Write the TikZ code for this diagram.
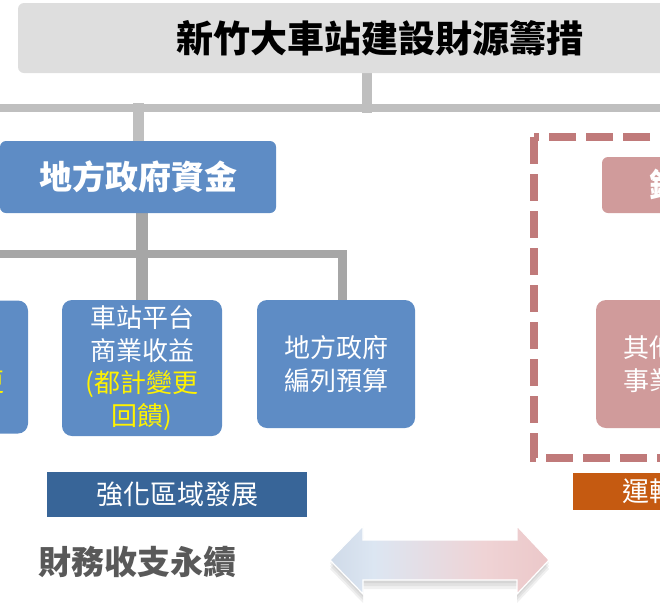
\documentclass[tikz,border=0pt]{standalone}
\usepackage{fontspec}
\setmainfont{Noto Sans CJK TC}
\usepackage{xcolor}
\usepackage{tikz}
\usetikzlibrary{
	positioning,						% Relative positioning
	calc								% Calculate point coordinates
}
\pgfdeclarelayer{background}
\pgfsetlayers{background,main}
\definecolor{title-gray}{HTML}{DEDEDE}
\definecolor{bus-gray}{HTML}{BFBFBF}
\definecolor{sub-gray}{HTML}{A6A6A6}
\definecolor{fund-blue}{HTML}{5E8CC5}
\definecolor{goal-blue}{HTML}{386598}
\definecolor{rail-pink}{HTML}{D09B9B}
\definecolor{dash-red}{HTML}{C07A7A}
\definecolor{run-orange}{HTML}{C55A11}
\definecolor{label-gray}{HTML}{595959}
\definecolor{arrow-a}{HTML}{AFBCCF}
\definecolor{arrow-b}{HTML}{DCE6F2}
\definecolor{arrow-c}{HTML}{EFD3D5}
\definecolor{arrow-d}{HTML}{E6B5B5}
\pgfdeclarehorizontalshading{balanceshade}{100bp}{color(0bp)=(arrow-a); color(35bp)=(arrow-b); color(60bp)=(arrow-c); color(100bp)=(arrow-d)}

\begin{document}
\begin{tikzpicture}[x=1pt, y=-1pt]
		\tikzstyle{headbox} = [rectangle, rounded corners=6pt, fill=title-gray, inner sep=0pt, font=\bfseries\fontsize{37}{40}\selectfont]
		\tikzstyle{fundbox} = [rectangle, rounded corners=6pt, text=white, inner sep=0pt, font=\bfseries\fontsize{33}{36}\selectfont]
		\tikzstyle{incomebox} = [rectangle, rounded corners=10pt, fill=fund-blue, text=white, inner sep=0pt, align=center, minimum width=160pt, font=\fontsize{26}{32.5}\selectfont]
		\tikzstyle{goalbox} = [rectangle, text=white, inner sep=0pt, minimum width=260pt, font=\fontsize{27}{30}\selectfont]
		\tikzstyle{busline} = [draw=bus-gray, line width=8pt, line cap=rect]
		\tikzstyle{subline} = [draw=sub-gray, line width=8pt, line cap=rect]
		
		\useasboundingbox (0,0) rectangle (660,611);
		\clip (0,0) rectangle (660,611);
		
		% Title
		\node[headbox, minimum width=724pt, minimum height=70pt] at (380,38) (title) {新竹大車站建設財源籌措};
		
		% Funding sources
		\node[fundbox, fill=fund-blue, minimum width=276pt, minimum height=72pt] at (138,177) (localFund) {地方政府資金};
		\node[fundbox, fill=rail-pink, minimum width=260pt, minimum height=56pt] at (732,185) (railFund) {鐵道局資金};
		
		%% Local income items
		\node[incomebox, minimum height=133pt] at (-52,367) (landIncome) {車站周邊\\土地開發\\\textcolor{yellow}{(都計變更}\\\textcolor{yellow}{回饋)}};
		\node[incomebox, minimum height=136pt] at (142,368) (platformIncome) {車站平台\\商業收益\\\textcolor{yellow}{(都計變更}\\\textcolor{yellow}{回饋)}};
		\node[incomebox, minimum width=158pt, minimum height=128pt] at (336,364) (localBudget) {地方政府\\編列預算};
		%% Rail income items
		\node[incomebox, fill=rail-pink, minimum width=158pt, minimum height=128pt] at (675,364) (otherIncome) {其他附屬\\事業收益};
		\draw[dash-red, line width=8pt, dash pattern=on 27pt off 10pt] (534,137) rectangle (900,458);
		
		% Goals
		\node[goalbox, fill=goal-blue, minimum height=45pt] at (177,494.5) (regionGoal) {強化區域發展};
		\node[goalbox, fill=run-orange, minimum height=37pt] at (703,491.5) (runGoal) {運輸服務提升};
		\node[text=label-gray, inner sep=0pt, font=\bfseries\fontsize{33}{36}\selectfont] at (137,562) (balanceLabel) {財務收支永續};
		
		%% Balance arrow
		\def\balancepath{(330,560) -- (363,526) -- (363,540) -- (517,540) -- (517,526) -- (549,560) -- (517,594) -- (517,580) -- (363,580) -- (363,594) -- cycle}
		\foreach \s in {3,6,9}{
			\fill[black, opacity=0.06, shift={(0,\s)}] \balancepath;
		}
		\shadedraw[shading=balanceshade, draw=white, line width=1.2pt] \balancepath;
		
		% Connectors
		\begin{pgfonlayer}{background}
			\coordinate (busJoin) at (367,108);
			\coordinate (busLeft) at (-10,108);
			\coordinate (busRight) at (670,108);
			\draw[busline, line width=10pt] (title.south -| busJoin) -- (busJoin);
			\draw[busline] (busLeft) -- (busRight);
			\draw[busline, line width=11pt] (localFund.north |- busJoin) -- (localFund.north);
			%% Local items
			\coordinate (subLeft) at (-10,254);
			\coordinate (subRight) at (342,254);
			\draw[subline] (subLeft) -- (subRight);
			\draw[subline, line width=12pt] (localFund.south -| platformIncome.north) -- (platformIncome.north);
			\draw[subline, line width=9pt] (subRight) -- (subRight |- localBudget.north);
		\end{pgfonlayer}
\end{tikzpicture}
\end{document}
